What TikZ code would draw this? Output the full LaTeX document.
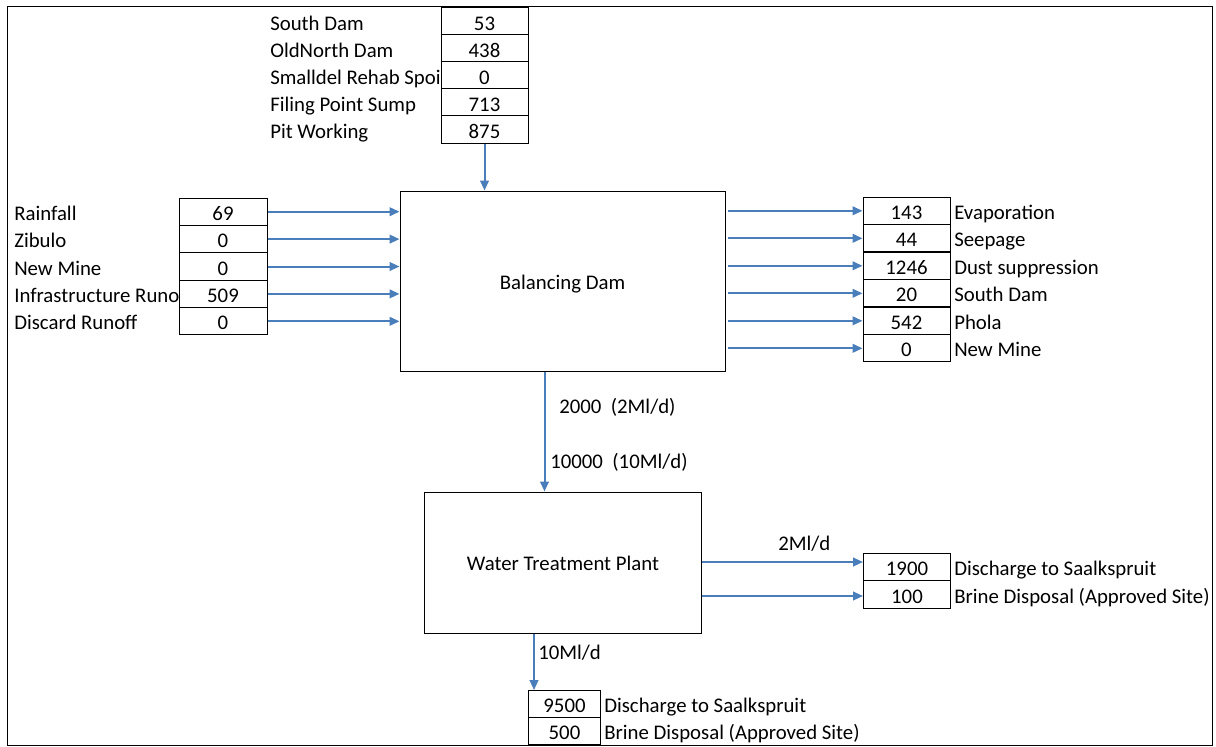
\documentclass[tikz,border=0pt]{standalone}
\usepackage{fontspec}
\setmainfont{Carlito}
\usetikzlibrary{arrows.meta,calc}
\definecolor{arrowblue}{HTML}{4A7EBB}
\begin{document}
\begin{tikzpicture}[x=0.75pt,y=-0.75pt, font=\fontsize{15.6}{18}\selectfont,
  cell/.style={draw, fill=white, line width=0.75pt, inner sep=0pt, minimum height=20.5pt, minimum width=65.25pt, text height=12.8pt, text depth=0pt},
  lab/.style={anchor=west, inner sep=0pt, text height=12.8pt, text depth=0pt},
  flow/.style={draw=arrowblue, line width=1.5pt, -{Triangle[length=7.5pt,width=6.5pt]}},
  bigbox/.style={draw, line width=0.75pt, inner sep=0pt, text height=12.5pt, text depth=0pt}]
\useasboundingbox (0,0) rectangle (1216,746);
\draw[line width=0.75pt] (7.5,6.5) rectangle (1212,745);

% top table
\node[lab] (tl1) at (270,21.5) {South Dam};
\node[lab] (tl2) at (270,48.5) {OldNorth Dam};
\node[lab] (tl3) at (270,75.5) {Smalldel Rehab Spoi};
\node[lab] (tl4) at (270,102.5) {Filing Point Sump};
\node[lab] (tl5) at (270,129.5) {Pit Working};
\node[cell] (t1) at (484.5,21.5) {53};
\node[cell] (t2) at (484.5,48.5) {438};
\node[cell] (t3) at (484.5,75.5) {0};
\node[cell] (t4) at (484.5,102.5) {713};
\node[cell] (t5) at (484.5,129.5) {875};

% balancing dam
\node[bigbox, minimum width=243.75pt, minimum height=135pt] (dam) at (562.5,281) {Balancing Dam};

% left table
\node[lab] (ll1) at (14,211.7) {Rainfall};
\node[lab] (ll2) at (14,239.1) {Zibulo};
\node[lab] (ll3) at (14,266.5) {New Mine};
\node[lab] (ll4) at (14,293.9) {Infrastructure Runo};
\node[lab] (ll5) at (14,321.3) {Discard Runoff};
\node[cell, minimum width=66pt] (l1) at (223,211.7) {69};
\node[cell, minimum width=66pt] (l2) at (223,239.1) {0};
\node[cell, minimum width=66pt] (l3) at (223,266.5) {0};
\node[cell, minimum width=66pt] (l4) at (223,293.9) {509};
\node[cell, minimum width=66pt] (l5) at (223,321.3) {0};

% right table
\node[cell] (r1) at (906.5,210.8) {143};
\node[cell] (r2) at (906.5,238.3) {44};
\node[cell] (r3) at (906.5,265.8) {1246};
\node[cell] (r4) at (906.5,293.3) {20};
\node[cell] (r5) at (906.5,320.8) {542};
\node[cell] (r6) at (906.5,348.3) {0};
\node[lab] (rl1) at (954,210.8) {Evaporation};
\node[lab] (rl2) at (954,238.3) {Seepage};
\node[lab] (rl3) at (954,265.8) {Dust suppression};
\node[lab] (rl4) at (954,293.3) {South Dam};
\node[lab] (rl5) at (954,320.8) {Phola};
\node[lab] (rl6) at (954,348.3) {New Mine};

% water treatment plant
\node[bigbox, minimum width=208.1pt, minimum height=105.75pt] (wtp) at (563,562.5) {Water Treatment Plant};

% WTP right table
\node[cell] (w1) at (907,567) {1900};
\node[cell] (w2) at (907,594.5) {100};
\node[lab] (wl1) at (954,567) {Discharge to Saalkspruit};
\node[lab] (wl2) at (954,594.5) {Brine Disposal (Approved Site)};

% bottom table
\node[cell, minimum width=54pt] (b1) at (564.5,704.2) {9500};
\node[cell, minimum width=54pt] (b2) at (564.5,731.3) {500};
\node[lab] (bl1) at (604,704.2) {Discharge to Saalkspruit};
\node[lab] (bl2) at (604,731.3) {Brine Disposal (Approved Site)};

% arrows
\draw[flow] (t5.south) -- (t5.south |- dam.north);
\foreach \i in {1,...,5} {\draw[flow] (l\i.east) -- (l\i.east -| dam.west);}
\foreach \i in {1,...,6} {\draw[flow] ($(r\i.west -| dam.east)+(2,0)$) -- (r\i.west);}

\coordinate (dm) at ($(dam.south)+(-18,0)$);
\draw[flow] (dm) -- (dm |- wtp.north);
\node[lab] (q1) at (559,405) {2000\ \ (2Ml/d)};
\node[lab] (q2) at (550,460) {10000\ \ (10Ml/d)};

\coordinate (we1) at ($(wtp.east)+(0,-0.5)$);
\coordinate (we2) at ($(wtp.east)+(0,33.5)$);
\draw[flow] (we1) -- (we1 -| w1.west);
\draw[flow] (we2) -- (we2 -| w2.west);
\node[lab] (q3) at (778,542) {2Ml/d};

\coordinate (ws) at ($(wtp.south)+(-29,0)$);
\draw[flow] (ws) -- (ws |- b1.north);
\node[lab] (q4) at (538,651) {10Ml/d};
\end{tikzpicture}
\end{document}
